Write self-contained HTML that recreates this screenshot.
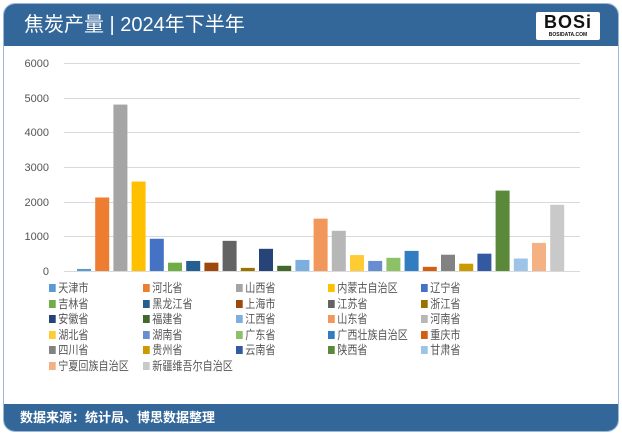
<!DOCTYPE html>
<html><head><meta charset="utf-8"><style>
*{margin:0;padding:0;box-sizing:border-box}
body{width:622px;height:434px;background:#fff;font-family:"Liberation Sans","Noto Sans CJK SC",sans-serif;position:relative;overflow:hidden}
.card{position:absolute;left:3px;top:3px;width:616px;height:429px;border:1px solid #9db8d4;border-radius:12px;overflow:hidden;background:#fff}
.hdr{position:absolute;left:0;top:0;width:100%;height:42px;background:#336699;color:#fff;font-size:20px;line-height:42px;padding-left:20px}
.ftr{position:absolute;left:0;bottom:0;width:100%;height:27px;background:#336699;color:#fff;font-size:13px;font-weight:bold;line-height:27px;padding-left:16px}
.logo{position:absolute;right:18px;top:8px;width:64px;height:28px;background:#fff;border-radius:2px;color:#111;font:bold 18px/20px "Liberation Sans",sans-serif;text-align:center;letter-spacing:1px}
.logo small{display:block;font-size:5px;line-height:6px;letter-spacing:0}
.lg{position:absolute;font-size:12px;color:#555;line-height:14px;white-space:nowrap;transform:scaleX(0.84);transform-origin:0 0}
.lg i{display:inline-block;width:8px;height:8px;margin-right:3px;vertical-align:0px}
</style></head><body>
<div class="card">
<div class="hdr">焦炭产量 | 2024年下半年</div>
<div class="logo">BOSi<small>BOSIDATA.COM</small></div>
<div class="ftr">数据来源：统计局、博思数据整理</div>
</div>
<svg width="622" height="434" style="position:absolute;left:0;top:0">
<g stroke="#d9d9d9" stroke-width="1">
<line x1="64" x2="580" y1="63.5" y2="63.5"/><line x1="64" x2="580" y1="98.5" y2="98.5"/><line x1="64" x2="580" y1="132.5" y2="132.5"/><line x1="64" x2="580" y1="167.5" y2="167.5"/><line x1="64" x2="580" y1="202.5" y2="202.5"/><line x1="64" x2="580" y1="236.5" y2="236.5"/><line x1="64" x2="580" y1="271.5" y2="271.5"/>
</g>
<g font-size="11" fill="#555" text-anchor="end" font-family="Liberation Sans,sans-serif">
<text x="49" y="67">6000</text><text x="49" y="102">5000</text><text x="49" y="136">4000</text><text x="49" y="171">3000</text><text x="49" y="206">2000</text><text x="49" y="240">1000</text><text x="49" y="275">0</text>
</g>
<g id="bars"></g>
</svg>
<div id="leg"></div>
<script>
var d=[["天津市",60,"#5B9BD5"],["河北省",2120,"#ED7D31"],["山西省",4800,"#A5A5A5"],["内蒙古自治区",2580,"#FFC000"],["辽宁省",930,"#4472C4"],["吉林省",240,"#70AD47"],["黑龙江省",290,"#255E91"],["上海市",240,"#9E480E"],["江苏省",870,"#636363"],["浙江省",90,"#997300"],["安徽省",640,"#264478"],["福建省",150,"#43682B"],["江西省",320,"#7CAFDD"],["山东省",1510,"#F1975A"],["河南省",1160,"#B7B7B7"],["湖北省",460,"#FFCD33"],["湖南省",290,"#698ED0"],["广东省",380,"#8CC168"],["广西壮族自治区",580,"#327DC2"],["重庆市",120,"#D26012"],["四川省",470,"#828282"],["贵州省",210,"#CC9A00"],["云南省",500,"#335AA1"],["陕西省",2320,"#5A8A39"],["甘肃省",360,"#9DC3E6"],["宁夏回族自治区",810,"#F4B183"],["新疆维吾尔自治区",1910,"#C9C9C9"]];
var s="",l="",xs=[49,143,236,328,421];
d.forEach(function(b,i){var h=b[1]*0.03467,cx=84+i*18.2;
s+='<rect x="'+(cx-7)+'" y="'+(271-h)+'" width="14" height="'+h+'" fill="'+b[2]+'"/>';
l+='<div class="lg" style="left:'+xs[i%5]+'px;top:'+(281+Math.floor(i/5)*15.6)+'px"><i style="background:'+b[2]+'"></i>'+b[0]+'</div>';});
document.getElementById("bars").innerHTML=s;document.getElementById("leg").innerHTML=l;
</script>
</body></html>
